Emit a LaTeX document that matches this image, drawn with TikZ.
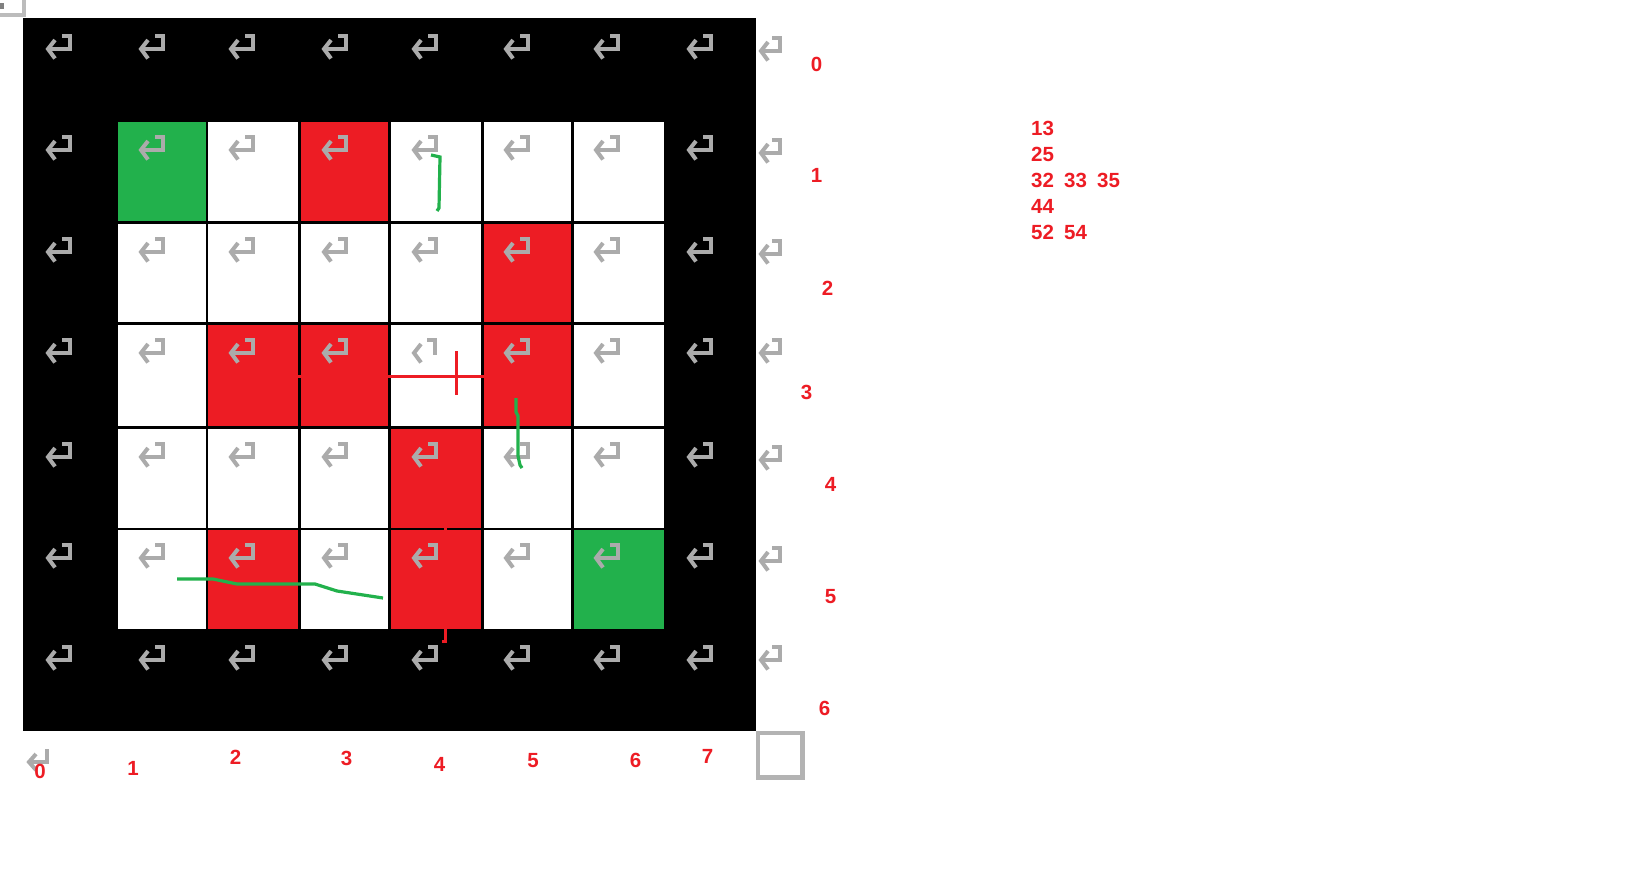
\documentclass[tikz,border=0pt]{standalone}
\usepackage{fontspec}
\setmainfont{Liberation Sans}
\definecolor{mazered}{HTML}{ED1C24}
\definecolor{mazegreen}{HTML}{22B14C}
\definecolor{markgray}{HTML}{ABABAB}
\tikzset{
  cellbox/.style={anchor=north west, inner sep=0pt, outer sep=0pt, fill=#1},
  coord/.style={text=mazered, font=\fontsize{20.5}{24}\bfseries\selectfont, inner sep=0pt},
  retline/.style={draw=markgray, line width=4pt},
  greenmark/.style={draw=mazegreen, line width=3.2pt},
  redmark/.style={draw=mazered, line width=3pt}
}
\def\mazecell(#1,#2,#3,#4,#5,#6){
  \node[cellbox=#6, minimum width=#4pt, minimum height=#5pt] (#1) at (#2,#3) {};
}
\def\retmark(#1,#2,#3){
  \draw[retline] (#1+#3-10,#2+2) -- (#1+#3-2,#2+2) -- (#1+#3-2,#2+15) -- (#1+4,#2+15);
  \draw[retline] (#1+9,#2+6) -- (#1+2,#2+15) -- (#1+9,#2+24.5);
}
\begin{document}
\begin{tikzpicture}[x=1pt,y=-1pt]
\useasboundingbox (0,0) rectangle (1650,896);
% window corner
\draw[draw=markgray!80, line width=4pt] (0,15) -- (24,15) -- (24,0);
\fill[gray] (0,3) rectangle (4,9);
% board
\mazecell(board,23,18,733,712.5,black)
\foreach \row/\ytop/\rowh in {1/122/99,2/224/98,3/325/101,4/429/98.5,5/529.5/99}{
  \foreach \col/\xleft/\colw in {1/118/88,2/208/90,3/301/87,4/391/90,5/484/87,6/574/90}{
    \mazecell(cell\row\col,\xleft,\ytop,\colw,\rowh,white)
  }
}
\mazecell(cell13,301,122,87,99,mazered)
\mazecell(cell25,484,224,87,98,mazered)
\mazecell(cell32,208,325,90,101,mazered)
\mazecell(cell33,301,325,87,101,mazered)
\mazecell(cell35,484,325,87,101,mazered)
\mazecell(cell44,391,429,90,98.5,mazered)
\mazecell(cell52,208,529.5,90,99,mazered)
\mazecell(cell54,391,529.5,90,99,mazered)
\mazecell(cell11,118,122,88,99,mazegreen)
\mazecell(cell56,574,529.5,90,99,mazegreen)
% return marks
\foreach \ax in {46,139,229,322,412,504,594,687}{
  \foreach \ay in {34,135,237,442,543,645}{
    \retmark(\ax,\ay,26)
  }
}
\foreach \ax in {46,139,229,322,504,594,687}{
  \retmark(\ax,338,26)
}
\draw[retline] (427,340) -- (435,340) -- (435,355);
\draw[retline] (421,344) -- (414,353) -- (421,362.5);
\foreach \ay in {36,138,239,338,445,546,645}{
  \retmark(759,\ay,23)
}
\draw[retline] (47,749) -- (47,762) -- (31,762);
\draw[retline] (36,754) -- (29,762) -- (36,770);
% pencil marks
\draw[greenmark] (431,155) -- (440,157) -- (439,208) -- (437,211);
\draw[greenmark] (516,398) -- (516,412) -- (518,416) -- (518,456) -- (520,465) -- (522,468);
\draw[greenmark] (177,579) -- (213,579) -- (237,584) -- (315,584) -- (337,591) -- (383,598);
\draw[redmark] (388,376.5) -- (484,376.5);
\draw[redmark] (456,351) -- (456,395);
\draw[redmark] (298,376.5) -- (301,376.5);
\draw[redmark] (445,528) -- (445,530);
\draw[redmark] (445,629) -- (445,641) -- (442,641);
% blank square
\node[draw=markgray!90, fill=white, line width=4.5pt, minimum size=44.5pt, inner sep=0pt] (blankbox) at (780,755) {};
% row numbers
\node[coord] (row0) at (816.5,64) {0};
\node[coord] (row1) at (816.5,175) {1};
\node[coord] (row2) at (827.5,288) {2};
\node[coord] (row3) at (806.5,392) {3};
\node[coord] (row4) at (830.5,484) {4};
\node[coord] (row5) at (830.5,597) {5};
\node[coord] (row6) at (824.5,708) {6};
% column numbers
\node[coord] (col0) at (40,771.5) {0};
\node[coord] (col1) at (133,768.5) {1};
\node[coord] (col2) at (235.5,757.5) {2};
\node[coord] (col3) at (346.5,758.5) {3};
\node[coord] (col4) at (439.5,764.5) {4};
\node[coord] (col5) at (533,760.5) {5};
\node[coord] (col6) at (635.5,760.5) {6};
\node[coord] (col7) at (707.5,756.5) {7};
% red cells list
\node[coord, anchor=west] (list13) at (1031,128) {13};
\node[coord, anchor=west] (list25) at (1031,154) {25};
\node[coord, anchor=west] (list32) at (1031,180) {32};
\node[coord, anchor=west] (list33) at (1064,180) {33};
\node[coord, anchor=west] (list35) at (1097,180) {35};
\node[coord, anchor=west] (list44) at (1031,206) {44};
\node[coord, anchor=west] (list52) at (1031,232.5) {52};
\node[coord, anchor=west] (list54) at (1064,232.5) {54};
\end{tikzpicture}
\end{document}
